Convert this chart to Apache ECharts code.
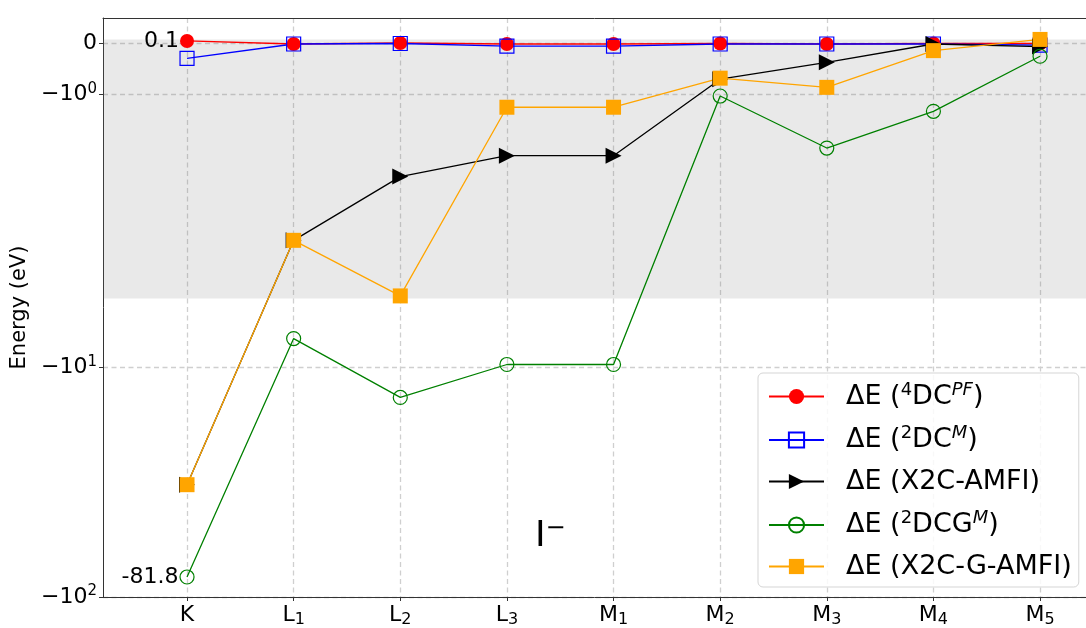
<!DOCTYPE html>
<html>
<head>
<meta charset="utf-8">
<script src="https://cdn.jsdelivr.net/npm/echarts@6/dist/echarts.min.js"></script>
<style>
  html, body { margin: 0; padding: 0; background: #fff; }
  #chart { width: 1086px; height: 628px; }
</style>
</head>
<body>
<div id="chart"></div>
<script>
// shells K .. M5 (letter + subscript)
var categories = ["K", "L1", "L2", "L3", "M1", "M2", "M3", "M4", "M5"];

// energy differences (eV)
var dc4pf = [0.05, -0.01, 0.01, -0.01, -0.01, 0.0, -0.01, 0.0, 0.0];
var dc2m = [-0.29, -0.01, 0.0, -0.05, -0.05, -0.01, -0.01, -0.01, -0.03];
var x2cAmfi = [-32.4, -3.86, -2.61, -2.2, -2.2, -0.7, -0.37, -0.01, -0.06];
var dcg2m = [-81.8, -7.48, -13.5, -9.7, -9.7, -1.03, -2.05, -1.33, -0.25];
var x2cGAmfi = [-32.4, -3.86, -4.95, -1.25, -1.25, -0.68, -0.86, -0.14, 0.08];

var seriesNames = ["ΔE (4DC-PF)", "ΔE (2DC-M)", "ΔE (X2C-AMFI)", "ΔE (2DCG-M)", "ΔE (X2C-G-AMFI)"];
var legendText = [
  "{f|ΔE (}{s|4}{t|DC}{i|PF}{t|)}",
  "{f|ΔE (}{s|2}{t|DC}{i|M}{t|)}",
  "{f|ΔE (X2C-AMFI)}",
  "{f|ΔE (}{s|2}{t|DCG}{i|M}{t|)}",
  "{f|ΔE (X2C-G-AMFI)}"
];

var yTicks = [0, -1, -10, -100];
var yTickLabels = ["{n|0}", "{n|−10}{s|0}", "{n|−10}{s|1}", "{n|−10}{s|2}"];
var yRange = [-100, 0.5];
var xRange = [-0.788, 8.431];
var shadeRange = [-5, 0.08];
var linthresh = 5;
var kNotes = { red: "0.1", green: "-81.8" };

// matplotlib-style symlog (linscale 1, base 10)
function symlog(v) {
  var a = Math.abs(v), s = v < 0 ? -1 : 1;
  var adj = 1 / (1 - 0.1);
  if (a <= linthresh) return v / linthresh * adj;
  return s * (adj + Math.log10(a / linthresh));
}

var FONT = "DejaVu Sans";
var xIdx = categories.map(function (c, i) { return i; });
var yTickPos = yTicks.map(symlog);

function toData(arr, note) {
  return arr.map(function (v, i) {
    var d = { value: [i, symlog(v)] };
    if (i === 0 && note) {
      d.label = {
        show: true, position: "left", distance: 1, formatter: note,
        fontFamily: FONT, fontSize: 22, color: "#000"
      };
    }
    return d;
  });
}

function lineSeries(name, arr, color, symbol, size, hollow, extra) {
  var s = {
    name: name,
    type: "line",
    data: toData(arr, extra && extra.note),
    symbol: symbol,
    symbolSize: size,
    showAllSymbol: true,
    lineStyle: { color: color, width: 1.3 },
    itemStyle: hollow
      ? { color: "rgba(255,255,255,0)", borderColor: color, borderWidth: 1.2 }
      : { color: color, borderWidth: 0 },
    emphasis: { disabled: true },
    animation: false
  };
  if (extra && extra.rotate) s.symbolRotate = extra.rotate;
  return s;
}

var chart = echarts.init(document.getElementById("chart"));

var series = [
  lineSeries(seriesNames[0], dc4pf, "#ff0000", "circle", 14, false, { note: kNotes.red }),
  lineSeries(seriesNames[1], dc2m, "#0000ff", "rect", 14, true),
  lineSeries(seriesNames[2], x2cAmfi, "#000000", "triangle", 16, false, { rotate: -90 }),
  lineSeries(seriesNames[3], dcg2m, "#008000", "circle", 14, true, { note: kNotes.green }),
  lineSeries(seriesNames[4], x2cGAmfi, "#ffa500", "rect", 15, false)
];

// grey band over the linear part of the symlog axis
series[0].markArea = {
  silent: true,
  itemStyle: { color: "rgba(120,120,120,0.16)" },
  data: [[{ yAxis: symlog(shadeRange[0]) }, { yAxis: symlog(shadeRange[1]) }]]
};

var gridLine = { show: true, lineStyle: { color: "#cfcfcf", width: 1.3, type: [5, 3.5] } };

chart.setOption({
  backgroundColor: "#fff",
  animation: false,
  grid: { left: 103, top: 18, right: 0, bottom: 27 },
  xAxis: [{
    type: "value",
    min: xRange[0],
    max: xRange[1],
    axisLine: { onZero: false, lineStyle: { color: "#333", width: 1 } },
    axisTick: { customValues: xIdx, length: 4, lineStyle: { color: "#333" } },
    axisLabel: {
      customValues: xIdx,
      formatter: function (v) {
        var c = categories[Math.round(v)];
        return c.length > 1 ? "{m|" + c[0] + "}{b|" + c.slice(1) + "}" : "{m|" + c + "}";
      },
      margin: 5,
      rich: {
        m: { fontFamily: FONT, fontSize: 22, color: "#000", lineHeight: 26 },
        b: { fontFamily: FONT, fontSize: 16, color: "#000", verticalAlign: "bottom", lineHeight: 14 }
      }
    },
    splitLine: gridLine
  }, {
    // top spine only
    type: "value",
    position: "top",
    min: xRange[0],
    max: xRange[1],
    axisLine: { show: true, onZero: false, lineStyle: { color: "#333", width: 1 } },
    axisTick: { show: false },
    axisLabel: { show: false },
    splitLine: { show: false }
  }],
  yAxis: {
    type: "value",
    min: symlog(yRange[0]),
    max: symlog(yRange[1]),
    name: "Energy (eV)",
    nameLocation: "middle",
    nameGap: 71,
    nameTextStyle: { fontFamily: FONT, fontSize: 21, color: "#000" },
    axisLine: { show: true, onZero: false, lineStyle: { color: "#333", width: 1 } },
    axisTick: { show: true, customValues: yTickPos, length: 4, lineStyle: { color: "#333" } },
    axisLabel: {
      customValues: yTickPos,
      formatter: function (v) {
        for (var i = 0; i < yTickPos.length; i++) {
          if (Math.abs(yTickPos[i] - v) < 1e-6) return yTickLabels[i];
        }
        return "";
      },
      margin: 6,
      rich: {
        n: { fontFamily: FONT, fontSize: 22, color: "#000", lineHeight: 26 },
        s: { fontFamily: FONT, fontSize: 15, color: "#000", verticalAlign: "top", lineHeight: 12 }
      }
    },
    splitLine: gridLine
  },
  legend: {
    orient: "vertical",
    left: 758,
    top: 373,
    padding: [8, 7, 7, 10],
    itemGap: 14.5,
    itemWidth: 55,
    itemHeight: 19,
    backgroundColor: "rgba(255,255,255,0.85)",
    borderColor: "#d5d5d5",
    borderWidth: 1,
    borderRadius: 5,
    data: seriesNames,
    formatter: function (name) { return legendText[seriesNames.indexOf(name)]; },
    textStyle: {
      rich: {
        f: { fontFamily: FONT, fontSize: 27, color: "#000", lineHeight: 31, padding: [0, 0, 0, 17] },
        t: { fontFamily: FONT, fontSize: 27, color: "#000", lineHeight: 31 },
        s: { fontFamily: FONT, fontSize: 18, color: "#000", verticalAlign: "top", lineHeight: 15 },
        i: { fontFamily: FONT, fontSize: 18, fontStyle: "italic", color: "#000", verticalAlign: "top", lineHeight: 15 }
      }
    }
  },
  graphic: [{
    type: "text",
    left: 535,
    top: 517,
    style: {
      text: "{a|I}{b|−}",
      rich: {
        a: { fontFamily: FONT, fontSize: 36, fill: "#000", lineHeight: 40 },
        b: { fontFamily: FONT, fontSize: 24, fill: "#000", verticalAlign: "top", lineHeight: 20 }
      }
    }
  }],
  series: series
});
</script>
</body>
</html>
